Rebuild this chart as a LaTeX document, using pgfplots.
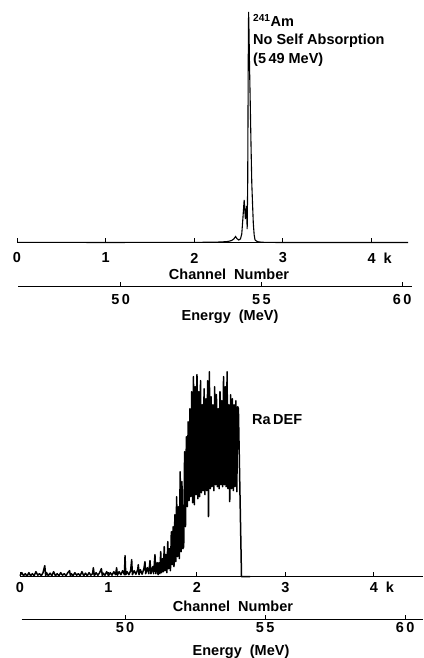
\documentclass[border=0pt]{standalone}
\usepackage{fontspec}
\setmainfont{Liberation Sans}
\usepackage{pgfplots}
\pgfplotsset{compat=1.18}

\newcommand{\lbl}{\fontsize{14.5}{17}\selectfont\bfseries}

\pgfplotsset{
  spec/.style={
    scale only axis, anchor=south west, clip=false,
    axis x line*=bottom, axis y line=none,
    ymin=0, ytick=\empty,
    tick align=inside, major tick length=5pt,
    axis line style={line width=1pt},
    tick style={black, line width=1pt},
    xticklabel style={font=\lbl, anchor=center},
  },
}

\begin{document}
\begin{tikzpicture}
\useasboundingbox (0,0) rectangle (423pt,658pt);

% ---------- top panel: 241Am ----------
\begin{axis}[spec, at={(17pt,415pt)}, width=391pt, height=231pt,
  xmin=0, xmax=4410, ymax=231,
  xtick={0,1000,2000,3000,4000},
  xticklabels={0,1,2,3,{4\rlap{\hspace{8pt}k}}},
  xticklabel style={yshift=-15pt}]
  \addplot[black, line width=1.1pt] coordinates {
    (0,0.6)(500,0.6)(1000,0.5)(1500,0.6)(2000,0.6)(2200,0.8)(2300,1)
    (2380,1.5)(2420,2.5)(2445,4)(2465,6.5)(2480,4.5)(2500,3)(2520,4)
    (2535,9)(2548,25)(2562,43)(2568,35)(2576,24)(2582,30)(2589,37)
    (2596,14)(2602,60)(2608,180)(2612,231)(2617,210)(2622,180)(2630,143)
    (2640,95)(2648,60)(2655,43)(2665,20)(2675,8)(2685,3)(2700,2)
    (2720,1.2)(2760,0.8)(2800,0.6)(3000,0.5)(3500,0.5)(4000,0.5)(4410,0.5)
  };
\end{axis}

\begin{axis}[spec, at={(18pt,371pt)}, width=394pt, height=10pt,
  xmin=46.35, xmax=60.35, ymax=1,
  xtick={50,55,60}, xticklabels={5\,0,5\,5,6\,0},
  xticklabel style={yshift=-13pt}]
  \addplot[draw=none] coordinates {(50,0)};
\end{axis}

\node[font=\lbl] at (229pt,384pt) {Channel\ \ Number};
\node[font=\lbl] at (230pt,341pt) {Energy\ \ (MeV)};
\node[font=\lbl, anchor=base west, inner sep=0pt] at (253pt,631pt)
  {\textsuperscript{241}Am};
\node[font=\lbl, anchor=base west, inner sep=0pt] at (253pt,613pt)
  {No Self Absorption};
\node[font=\lbl, anchor=base west, inner sep=0pt] at (253pt,594pt)
  {(5\,49 MeV)};

% ---------- bottom panel: RaDEF ----------
\begin{axis}[spec, at={(20pt,81.3pt)}, width=403pt, height=205pt,
  xmin=0, xmax=4554, ymax=205,
  xtick={0,1000,2000,3000,4000},
  xticklabels={0,1,2,3,{4\rlap{\hspace{8pt}k}}},
  xticklabel style={yshift=-10.5pt}]
  \addplot[black, line width=1.5pt, line join=round] coordinates {
    (0,1)(20,4)(40,1)(60,3)(80,0.5)(100,4)(120,1)(140,3)(160,1)(180,5)
    (200,1.5)(220,3)(240,1)(260,4)(280,11)(290,1)(300,4)(320,1)(340,3.5)
    (360,1)(380,5)(400,1)(420,3)(440,1)(460,4)(480,1.5)(500,3)(520,1)
    (540,4)(560,6)(570,1)(580,3)(600,1)(620,4)(640,1.5)(660,3)(680,1)
    (700,5)(720,1)(740,3.5)(760,1)(780,4)(800,1.5)(820,3)(829,9)(840,1)
    (860,4)(880,1.5)(900,4)(920,8)(930,1)(940,3.5)(960,1.5)(980,5)
    (1000,1)(1020,4)(1040,1.5)(1060,5)(1080,2)(1092,9)(1100,1.5)(1120,5)
    (1140,2)(1160,6)(1180,2)(1187,21)(1195,2)(1210,5)(1230,2)(1250,6)
    (1262,17)(1270,2)(1290,6)(1310,2.5)(1330,7)(1337,12)(1345,2)(1360,7)
    (1380,2.5)(1400,8)(1412,15)(1420,3)(1440,9)(1455,3)(1469,16)(1480,3)
    (1500,10)(1510,3)(1525,22)(1535,3)(1550,14)(1560,2)(1570,14)(1580,3)
    (1590,25)(1600,4)(1610,18)(1620,5)(1630,30)(1640,6)(1650,22)(1660,4)
    (1670,35)(1680,8)(1690,28)(1700,6)(1710,45)(1720,12)(1730,50)(1740,10)
    (1750,62)(1760,15)(1770,80)(1780,20)(1790,70)(1800,18)(1810,105)
    (1820,25)(1830,95)(1840,28)(1850,30)(1860,125)(1870,50)(1880,140)
    (1890,70)(1900,155)(1910,76)(1920,168)(1930,80)(1940,185)(1950,74)
    (1960,200)(1970,72)(1980,190)(1990,82)(2000,202)(2010,78)(2020,185)
    (2030,80)(2040,196)(2050,84)(2060,172)(2070,86)(2080,188)(2090,82)
    (2100,178)(2110,86)(2120,196)(2130,60)(2140,205)(2150,88)(2160,180)
    (2170,90)(2180,172)(2190,86)(2200,190)(2210,92)(2220,182)(2230,90)
    (2240,168)(2250,88)(2260,185)(2270,92)(2280,176)(2290,90)(2300,200)
    (2310,92)(2320,190)(2330,90)(2340,205)(2350,88)(2360,172)(2370,75)
    (2380,182)(2390,88)(2400,178)(2410,86)(2420,172)(2430,90)(2440,176)
    (2450,85)(2460,170)(2468,168)(2503,0)(2600,0)
  };
\end{axis}

\begin{axis}[spec, at={(21.7pt,38pt)}, width=401.3pt, height=10pt,
  xmin=46.31, xmax=60.64, ymax=1,
  xtick={50,55,60}, xticklabels={5\,0,5\,5,6\,0},
  xticklabel style={yshift=-8pt}]
  \addplot[draw=none] coordinates {(50,0)};
\end{axis}

\node[font=\lbl] at (233pt,51.3pt) {Channel\ \ Number};
\node[font=\lbl] at (241pt,6.3pt) {Energy\ \ (MeV)};
\node[font=\lbl, anchor=west, inner sep=0pt] at (252pt,238pt) {Ra\,DEF};

\end{tikzpicture}
\end{document}
